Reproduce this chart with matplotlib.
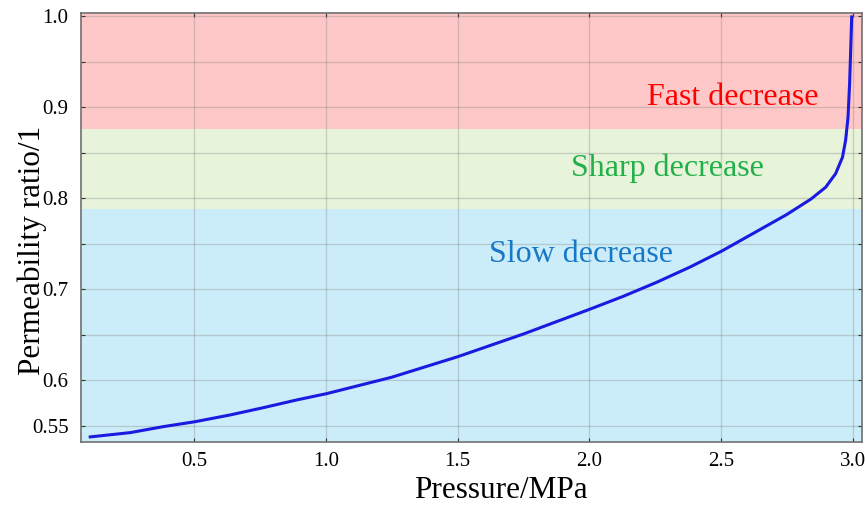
import matplotlib.pyplot as plt

plt.rcParams['font.family'] = ['Liberation Serif', 'DejaVu Serif']

# curve
pressure = [0.106, 0.258, 0.384, 0.504, 0.637, 0.763, 0.890, 1.003, 1.25, 1.50, 1.75,
            2.00, 2.129, 2.255, 2.382, 2.502, 2.622, 2.748, 2.84, 2.896, 2.934, 2.96,
            2.972, 2.981, 2.987, 2.991, 2.995]
ratio = [0.538, 0.5427, 0.5493, 0.5547, 0.5621, 0.5701, 0.5786, 0.5855, 0.6035, 0.626, 0.651,
         0.678, 0.6924, 0.7077, 0.7245, 0.742, 0.7615, 0.782, 0.799, 0.812, 0.827, 0.845,
         0.864, 0.889, 0.926, 0.962, 0.999]

# zones (lower, upper) and labels
zone_names = ['Slow decrease', 'Sharp decrease', 'Fast decrease']
zone_low = [0.50, 0.788, 0.876]
zone_high = [0.788, 0.876, 1.05]
zone_fill = ['#cbedf9', '#e8f4da', '#ffc8c8']
zone_text = ['#1878c8', '#22b04a', '#ff0000']
label_x = [1.968, 2.296, 2.545]
label_y = [0.730, 0.824, 0.902]

xticks = [0.5, 1.0, 1.5, 2.0, 2.5, 3.0]
ytick_pos = [0.55, 0.6, 0.65, 0.7, 0.75, 0.8, 0.85, 0.9, 0.95, 1.0]
ytick_lab = ['0.55', '0.6', '', '0.7', '', '0.8', '', '0.9', '', '1.0']

fig = plt.figure(figsize=(8.65, 5.05), dpi=100)
ax = fig.add_axes([81/865, 63/505, 781/865, 429/505])

for lo, hi, c in zip(zone_low, zone_high, zone_fill):
    ax.axhspan(lo, hi, color=c, lw=0, zorder=0)

ax.plot(pressure, ratio, color='#1a1ae0', lw=2.2, zorder=3)

for name, tx, ty, c in zip(zone_names, label_x, label_y, zone_text):
    ax.text(tx, ty, name, color=c, fontsize=23, ha='center', va='baseline', zorder=4)

ax.set_xlim(0.071, 3.034)
ax.set_ylim(0.5324, 1.0033)

ax.set_xticks(xticks)
ax.set_xticklabels(['%.1f' % v for v in xticks])
ax.set_yticks(ytick_pos)
ax.set_yticklabels(ytick_lab)
ax.tick_params(direction='in', length=3, width=0.8, labelsize=15, colors='#333333',
               top=True, right=True)
ax.tick_params(axis='x', pad=7)
ax.tick_params(axis='y', pad=9)
for lab in ax.get_xticklabels() + ax.get_yticklabels():
    lab.set_color('black')

ax.grid(True, color='#808080', alpha=0.33, lw=1.0, zorder=1)
ax.set_axisbelow(False)
for s in ax.spines.values():
    s.set_color('#707070')
    s.set_linewidth(1.2)
    s.set_zorder(5)

ax.set_xlabel('Pressure/MPa', fontsize=22.5)
ax.xaxis.set_label_coords(0.537, -0.131)
ax.xaxis.label.set_va('baseline')
ax.set_ylabel('Permeability ratio/1', fontsize=22.5)
ax.yaxis.set_label_coords(-0.063, 0.4476)
ax.yaxis.label.set_va('center')

fig.savefig('out.png', dpi=100)
